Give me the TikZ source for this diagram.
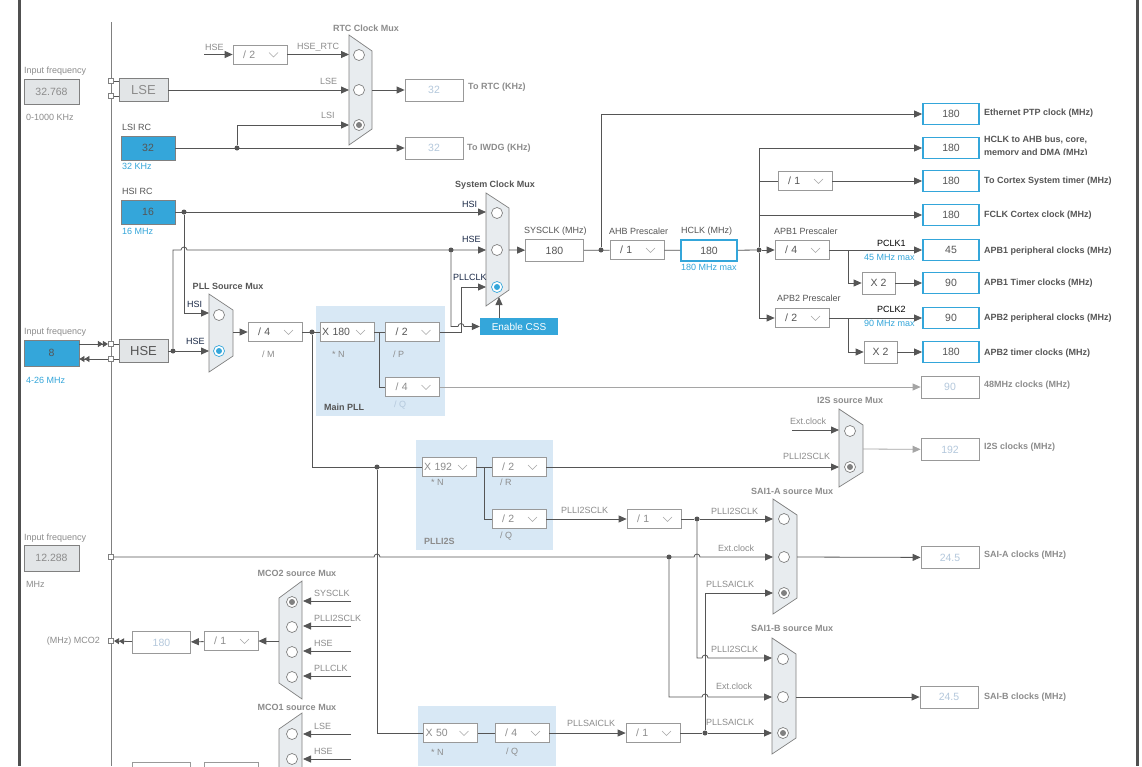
\documentclass[tikz,border=0pt]{standalone}
\usepackage{fontspec}
\setmainfont{Liberation Sans}
\usetikzlibrary{arrows.meta}

\definecolor{stblue}{RGB}{52,166,218}
\definecolor{wirec}{RGB}{85,85,85}
\definecolor{lightwire}{RGB}{165,165,165}
\definecolor{boxgray}{RGB}{226,229,231}
\definecolor{muxgray}{RGB}{232,236,239}
\definecolor{pllbg}{RGB}{216,232,245}
\definecolor{txtgray}{RGB}{140,140,140}
\definecolor{txtdark}{RGB}{85,85,85}
\definecolor{txtoff}{RGB}{180,200,220}
\definecolor{txtnavy}{RGB}{25,40,70}
\definecolor{framec}{RGB}{80,80,80}

\tikzstyle{wire} = [draw=wirec, line width=0.8pt]
\tikzstyle{arr} = [wire, -{Triangle[length=8pt,width=7pt]}]
\tikzstyle{dbl} = [wire, -{Triangle[length=5pt,width=6pt]Triangle[length=5pt,width=6pt]}]
\tikzstyle{dot} = [circle, fill=wirec, inner sep=0pt, minimum size=5pt]
\tikzstyle{port} = [draw=gray, fill=white, line width=0.6pt, inner sep=0pt, minimum size=5.5pt]
\tikzstyle{inbox} = [draw=gray, line width=0.8pt, fill=stblue, inner sep=0pt, minimum width=54pt, minimum height=24pt, font=\fontsize{10.5}{12}\selectfont, text=txtdark]
\tikzstyle{greybox} = [inbox, fill=boxgray, text=txtgray]
\tikzstyle{srcbox} = [greybox, minimum width=49pt, minimum height=23pt, font=\fontsize{13}{15}\selectfont]
\tikzstyle{dropx} = [draw=gray!80, line width=0.7pt, fill=white, inner xsep=2pt, inner ysep=0pt, text width=50pt, minimum height=19pt, align=left, font=\fontsize{10.5}{12}\selectfont, text=txtdark, path picture={\draw[gray!70, line width=0.6pt] ([xshift=-18pt,yshift=2pt]path picture bounding box.east) -- ++(4.5pt,-4.5pt) -- ++(4.5pt,4.5pt);}]
\tikzstyle{drop} = [dropx, execute at begin node={\hspace*{8pt}}]
\tikzstyle{dropoff} = [drop, text=txtgray]
\tikzstyle{dropoffx} = [dropx, text=txtgray]
\tikzstyle{mulbox} = [draw=gray!80, line width=0.7pt, fill=white, inner sep=0pt, minimum width=33pt, minimum height=22pt, font=\fontsize{10.5}{12}\selectfont, text=txtdark]
\tikzstyle{outon} = [draw=stblue, line width=1.8pt, fill=white, inner sep=0pt, minimum width=56pt, minimum height=21pt, font=\fontsize{10.5}{12}\selectfont, text=txtdark]
\tikzstyle{outoff} = [outon, draw=gray!80, line width=0.8pt, minimum width=58pt, minimum height=22pt, text=txtoff]
\tikzstyle{valbox} = [outoff, text=txtdark]
\tikzstyle{mux} = [draw=gray, fill=muxgray, line width=0.7pt]
\tikzstyle{sel} = [circle, draw=gray, fill=white, line width=0.7pt, inner sep=0pt, minimum size=11pt]
\tikzstyle{selon} = [sel, draw=stblue, path picture={\fill[stblue] (path picture bounding box.center) circle (3pt);}]
\tikzstyle{selgrey} = [sel, path picture={\fill[gray] (path picture bounding box.center) circle (3pt);}]
\tikzstyle{lbl} = [inner sep=0pt, anchor=west, font=\fontsize{9}{11}\selectfont, text=txtgray]
\tikzstyle{lbldark} = [lbl, text=txtdark]
\tikzstyle{lblnavy} = [lbl, text=txtnavy]
\tikzstyle{lblblue} = [lbl, text=stblue]
\tikzstyle{title} = [inner sep=0pt, font=\bfseries\fontsize{9}{11}\selectfont, text=txtgray]
\tikzstyle{outlbl} = [inner sep=0pt, anchor=west, font=\bfseries\fontsize{9}{11}\selectfont, text=txtdark]

\begin{document}
\begin{tikzpicture}[x=1pt,y=-1pt]
	\useasboundingbox (0,0) rectangle (1142,766);
	\clip (0,0) rectangle (1142,766);
	\fill[white] (0,0) rectangle (1142,766);
	\fill[framec] (18,0) rectangle (21,766);
	\fill[framec] (1136,0) rectangle (1139,766);
	\draw[gray, line width=0.8pt] (111,22) -- (111,766);
	\fill[pllbg] (316,306) rectangle (445,416);
	\fill[pllbg] (416,440) rectangle (553,550);
	\fill[pllbg] (418,706) rectangle (556,766);

	% inputs
	\node[lbl] at (24,71) {Input frequency};
	\node[greybox, minimum width=55pt, minimum height=25pt] (in32) at (51.5,91.5) {32.768};
	\node[lbl] at (26,117) {0-1000 KHz};
	\node[port] (plse1) at (111,81) {};
	\node[port] (plse2) at (111,96) {};
	\node[srcbox] (lse) at (143.5,90) {LSE};
	\node[lbldark] at (122,127) {LSI RC};
	\node[inbox] (lsirc) at (148,148) {32};
	\node[lblblue] at (122,166) {32 KHz};
	\node[lbldark] at (122,191) {HSI RC};
	\node[inbox] (hsirc) at (148,212) {16};
	\node[lblblue] at (122,231) {16 MHz};
	\node[lbl] at (24,332) {Input frequency};
	\node[inbox, minimum width=55pt, minimum height=26pt] (in8) at (51.5,353) {8};
	\node[lblblue] at (26,380) {4-26 MHz};
	\node[port] (phse1) at (111,344) {};
	\node[port] (phse2) at (111,359) {};
	\node[srcbox, text=txtdark] (hse) at (143.5,351) {HSE};
	\node[lbl] at (24,538) {Input frequency};
	\node[greybox, minimum width=55pt, minimum height=26pt] (in12) at (51.5,558) {12.288};
	\node[lbl] at (26,584) {MHz};
	\node[port] (pext) at (111,557) {};
	\node[lbl, anchor=east] at (100,641) {(MHz) MCO2};
	\node[port] (pmco2) at (111,641) {};

	% RTC clock mux
	\node[title] at (366,28) {RTC Clock Mux};
	\draw[mux] (349,35) -- (372,51) -- (372,129) -- (349,145) -- cycle;
	\node[sel] (rtc1) at (359,55) {};
	\node[sel] (rtc2) at (359,90) {};
	\node[selgrey] (rtc3) at (359,125) {};
	\coordinate (rtcA) at (349,54.5);
	\coordinate (rtcB) at (349,90);
	\coordinate (rtcC) at (349,125);
	\coordinate (rtcout) at (372,90);
	\coordinate (hsein) at (204,54.5);
	\node[lbl] at (205,47) {HSE};
	\node[dropoff] (rtcdiv) at (260,54.5) {/ 2};
	\node[lbl] at (297,47) {HSE\_RTC};
	\node[lbl] at (320,81) {LSE};
	\node[lbl] at (321,115) {LSI};
	\node[outoff] (torc) at (434,90) {32};
	\node[outlbl, text=txtgray] at (468,87) {To RTC (KHz)};
	\node[outoff] (toiwdg) at (434,148) {32};
	\node[outlbl, text=txtgray] at (467,148) {To IWDG (KHz)};
	\node[dot] (lsidot) at (237,148) {};

	% system clock mux
	\node[title, text=txtdark] at (495,185) {System Clock Mux};
	\draw[mux] (486,193) -- (509,208) -- (509,290) -- (486,306) -- cycle;
	\node[sel] (sys1) at (497,213) {};
	\node[sel] (sys2) at (497,250) {};
	\node[selon] (sys3) at (497,287) {};
	\coordinate (sysA) at (486,212);
	\coordinate (sysB) at (486,250);
	\coordinate (sysC) at (486,287);
	\coordinate (sysout) at (509,250);
	\coordinate (sysbot) at (499,297);
	\node[lblnavy] at (462,204) {HSI};
	\node[lblnavy] at (462,239) {HSE};
	\node[lblnavy] at (453,277) {PLLCLK};
	\node[dot] (hsidot) at (184,212) {};
	\node[dot] (hsedot) at (173,351) {};
	\node[dot] (sysdot) at (451,250) {};
	\node[fill=stblue, text=white, inner sep=0pt, minimum width=78pt, minimum height=17pt, font=\fontsize{10}{12}\selectfont] (css) at (519,326.5) {Enable CSS};
	\coordinate (csstop) at (499,318);

	% PLL source mux and main PLL
	\node[title, text=txtdark] at (228,286) {PLL Source Mux};
	\draw[mux] (209,294) -- (233,310) -- (233,356) -- (209,372) -- cycle;
	\node[sel] (pll1) at (219,315) {};
	\node[selon] (pll2) at (219,351) {};
	\coordinate (pllA) at (209,313);
	\coordinate (pllB) at (209,351);
	\coordinate (pllout) at (233,332);
	\node[lblnavy] at (187,304) {HSI};
	\node[lblnavy] at (186,341) {HSE};
	\node[drop] (divm) at (275,332) {/ 4};
	\node[lbl] at (262,354) {/ M};
	\node[dot] (mdot) at (312,332) {};
	\node[dropx] (muln) at (347,332) {X 180};
	\node[lbl] at (332,354) {* N};
	\node[drop] (divp) at (412.5,332) {/ 2};
	\node[lbl] at (393,354) {/ P};
	\coordinate (nbr) at (379,332);
	\node[dropoff] (divq) at (412.5,387) {/ 4};
	\node[lbl, text=txtoff] at (394,405) {/ Q};
	\node[title, anchor=west, text=txtdark] at (324,407) {Main PLL};

	% AHB and APB
	\node[valbox] (sysclk) at (554.5,250.5) {180};
	\node[lbldark] at (524,231) {SYSCLK (MHz)};
	\node[dot] (ahbdot) at (601,250) {};
	\node[drop] (ahb) at (637,250) {/ 1};
	\node[lbldark] at (609,231) {AHB Prescaler};
	\node[outon] (hclk) at (709,250.5) {180};
	\node[lbldark] at (681,231) {HCLK (MHz)};
	\node[lblblue] at (681,267) {180 MHz max};
	\node[dot] (hclkdot) at (759,250) {};
	\node[drop] (systdiv) at (805,181) {/ 1};
	\node[drop] (apb1) at (802,250) {/ 4};
	\node[lbldark] at (774,231) {APB1 Prescaler};
	\node[drop] (apb2) at (802,318) {/ 2};
	\node[lbldark] at (777,298) {APB2 Prescaler};
	\coordinate (apb1br) at (848,250);
	\coordinate (apb2br) at (848,318);
	\node[mulbox] (x2a) at (878.5,283) {X 2};
	\node[mulbox] (x2b) at (880.5,352) {X 2};
	\node[lbl, text=black] at (877,243) {PCLK1};
	\node[lblblue] at (864,257) {45 MHz max};
	\node[lbl, text=black] at (877,309) {PCLK2};
	\node[lblblue] at (864,323) {90 MHz max};

	% outputs
	\node[outon] (eth) at (951,114) {180};
	\node[outon] (ahbo) at (951,148) {180};
	\node[outon] (cort) at (951,181) {180};
	\node[outon] (fclk) at (951,215) {180};
	\node[outon] (apb1p) at (951,250) {45};
	\node[outon] (apb1t) at (951,283) {90};
	\node[outon] (apb2p) at (951,318) {90};
	\node[outon] (apb2t) at (951,352) {180};
	\node[outoff] (usb) at (950,387) {90};
	\node[outlbl] at (984,113) {Ethernet PTP clock (MHz)};
	\node[outlbl] at (984,140) {HCLK to AHB bus, core,};
	\begin{scope}
		\clip (980,147) rectangle (1135,154.5);
		\node[outlbl] at (984,153.5) {memory and DMA (MHz)};
	\end{scope}
	\node[outlbl] at (984,181) {To Cortex System timer (MHz)};
	\node[outlbl] at (984,215) {FCLK Cortex clock (MHz)};
	\node[outlbl] at (984,251) {APB1 peripheral clocks (MHz)};
	\node[outlbl] at (984,283) {APB1 Timer clocks (MHz)};
	\node[outlbl] at (984,318) {APB2 peripheral clocks (MHz)};
	\node[outlbl] at (984,353) {APB2 timer clocks (MHz)};
	\node[outlbl, text=txtgray] at (984,385) {48MHz clocks (MHz)};

	% I2S source mux and PLLI2S
	\node[title] at (850,400) {I2S source Mux};
	\draw[mux] (839,409) -- (863,425) -- (863,472) -- (839,487) -- cycle;
	\node[sel] (i2s1) at (850,431) {};
	\node[selgrey] (i2s2) at (850,467) {};
	\coordinate (i2sext) at (792,430);
	\coordinate (i2smA) at (839,430);
	\coordinate (i2smB) at (839,467);
	\coordinate (i2smout) at (863,449);
	\node[lbl] at (790,421) {Ext.clock};
	\node[lbl] at (783,456) {PLLI2SCLK};
	\node[outoff] (i2sout) at (950,449.5) {192};
	\node[outlbl, text=txtgray] at (984,447) {I2S clocks (MHz)};
	\node[dot] (i2sdot) at (377,467) {};
	\node[dropoffx] (i2sn) at (449,467) {X 192};
	\node[lbl] at (431,482) {* N};
	\coordinate (i2sbr) at (484,467);
	\node[dropoff] (i2sr) at (519,467) {/ 2};
	\node[lbl] at (500,482) {/ R};
	\node[dropoff] (i2sq) at (519,519) {/ 2};
	\node[lbl] at (500,536) {/ Q};
	\node[title, anchor=west] at (424,541) {PLLI2S};
	\node[lbl] at (561,510) {PLLI2SCLK};
	\node[dropoff] (i2sdiv) at (654,519) {/ 1};
	\node[dot] (q2dot) at (697,519) {};

	% SAI1-A and SAI1-B source mux
	\node[title] at (792,491) {SAI1-A source Mux};
	\draw[mux] (773,499) -- (797,515) -- (797,598) -- (773,614) -- cycle;
	\node[sel] (saia1) at (784,519) {};
	\node[sel] (saia2) at (784,557) {};
	\node[selgrey] (saia3) at (784,593) {};
	\coordinate (saiaA) at (773,519);
	\coordinate (saiaB) at (773,557);
	\coordinate (saiaC) at (773,593);
	\coordinate (saiaout) at (797,557);
	\node[lbl] at (711,511) {PLLI2SCLK};
	\node[lbl] at (718,548) {Ext.clock};
	\node[lbl] at (706,584) {PLLSAICLK};
	\node[outoff] (saiabox) at (950,557.5) {24.5};
	\node[outlbl, text=txtgray] at (984,555) {SAI-A clocks (MHz)};
	\node[dot] (extdot) at (669,557) {};
	\node[title] at (792,628) {SAI1-B source Mux};
	\draw[mux] (772,638) -- (796,654) -- (796,738) -- (772,754) -- cycle;
	\node[sel] (saib1) at (783,659) {};
	\node[sel] (saib2) at (783,697) {};
	\node[selgrey] (saib3) at (783,733) {};
	\coordinate (saibA) at (772,658);
	\coordinate (saibB) at (772,697);
	\coordinate (saibC) at (772,733);
	\coordinate (saibout) at (796,697);
	\node[lbl] at (711,649) {PLLI2SCLK};
	\node[lbl] at (716,686) {Ext.clock};
	\node[lbl] at (706,722) {PLLSAICLK};
	\node[outoff] (saibbox) at (949,697) {24.5};
	\node[outlbl, text=txtgray] at (984,697) {SAI-B clocks (MHz)};

	% PLLSAI
	\node[dropoffx] (sain) at (450.5,733) {X 50};
	\node[lbl] at (431,752) {* N};
	\node[dropoff] (saiq) at (522,733) {/ 4};
	\node[lbl] at (506,752) {/ Q};
	\node[lbl] at (567,723) {PLLSAICLK};
	\node[dropoff] (saidiv) at (653,733) {/ 1};
	\node[dot] (saidot) at (705,733) {};

	% MCO2 and MCO1
	\node[title] at (297,573) {MCO2 source Mux};
	\draw[mux] (302,581) -- (279,598) -- (279,683) -- (302,699) -- cycle;
	\node[selgrey] (mco2s1) at (292,602) {};
	\foreach \i/\y in {2/627,3/652,4/677}
		\node[sel] (mco2s\i) at (292,\y) {};
	\foreach \i/\y/\t in {1/601/SYSCLK,2/626/PLLI2SCLK,3/651/HSE,4/676/PLLCLK}{
		\coordinate (m2in\i) at (351,\y);
		\coordinate (m2pt\i) at (303,\y);
		\draw[arr] (m2in\i) -- (m2pt\i);
		\node[lbl] at (314,\y-8) {\t};
	}
	\coordinate (m2out) at (279,641);
	\node[dropoff] (mco2div) at (231,641) {/ 1};
	\node[outoff] (mco2out) at (161.5,642.5) {180};
	\node[title] at (297,707) {MCO1 source Mux};
	\draw[mux] (302,713) -- (279,729) -- (279,800) -- (302,800) -- cycle;
	\node[sel] (mco1s1) at (292,734) {};
	\node[sel] (mco1s2) at (292,759) {};
	\foreach \i/\y/\t in {1/734/LSE,2/759/HSE}{
		\coordinate (m1in\i) at (351,\y);
		\coordinate (m1pt\i) at (303,\y);
		\draw[arr] (m1in\i) -- (m1pt\i);
		\node[lbl] at (314,\y-8) {\t};
	}
	\node[outoff] (mco1out) at (161.5,773) {};
	\node[dropoff] (mco1div) at (231,771.5) {};

	% connections
	\draw[wire] (plse1.east) -- (plse1 -| lse.west);
	\draw[wire] (plse2.east) -- (plse2 -| lse.west);
	\draw[dbl] (in8.east |- phse1) -- (phse1.west);
	\draw[dbl] (phse2.west) -- (in8.east |- phse2);
	\draw[wire] (phse1.east) -- (phse1 -| hse.west);
	\draw[wire] (phse2.east) -- (phse2 -| hse.west);
	\draw[arr] (hsein) -- (rtcdiv);
	\draw[arr] (rtcdiv) -- (rtcA);
	\draw[arr] (lse) -- (rtcB);
	\draw[arr] (lsidot) |- (rtcC);
	\draw[arr] (lsirc) -- (toiwdg);
	\draw[arr] (rtcout) -- (torc);
	\draw[arr] (hsirc) -- (sysA);
	\draw[arr] (hsidot) |- (pllA);
	\draw[arr] (hse) -- (pllB);
	\draw[arr] (hsedot) -- (173,250) -- (181,250) arc[start angle=180,end angle=0,radius=3pt] -- (sysB);
	\draw[arr] (sysdot) -- (451,326.5) -- (458,326.5) arc[start angle=180,end angle=0,radius=3pt] -- (css);
	\draw[arr] (divp) -- (461,332) -- (461,287) -- (sysC);
	\draw[arr] (csstop) -- (sysbot);
	\draw[arr] (sysout) -- (sysclk);
	\draw[wire] (sysclk) -- (ahb);
	\draw[arr] (ahbdot) |- (eth);
	\draw[wire] (ahb) -- (hclk);
	\draw[wire] (hclk) -- (hclkdot);
	\draw[arr] (hclkdot) |- (ahbo);
	\draw[wire] (hclkdot) |- (systdiv);
	\draw[arr] (systdiv) -- (cort);
	\draw[arr] (hclkdot) |- (fclk);
	\draw[arr] (hclkdot) -- (apb1);
	\draw[arr] (hclkdot) |- (apb2);
	\draw[arr] (apb1) -- (apb1p);
	\draw[arr] (apb1br) |- (x2a);
	\draw[arr] (x2a) -- (apb1t);
	\draw[arr] (apb2) -- (apb2p);
	\draw[arr] (apb2br) |- (x2b);
	\draw[arr] (x2b) -- (apb2t);
	\draw[arr] (pllout) -- (divm);
	\draw[wire] (divm) -- (muln);
	\draw[wire] (mdot) -- (312,467) -- (i2sn);
	\draw[wire] (muln) -- (divp);
	\draw[wire] (nbr) |- (divq);
	\draw[arr, draw=lightwire] (divq) -- (usb);
	\draw[wire] (i2sn) -- (i2sr);
	\draw[wire] (i2sbr) |- (i2sq);
	\draw[arr] (i2sr) -- (i2smB);
	\draw[arr] (i2sq) -- (i2sdiv);
	\draw[wire] (i2sdiv) -- (q2dot);
	\draw[arr] (q2dot) -- (saiaA);
	\draw[arr] (i2sext) -- (i2smA);
	\draw[arr, draw=lightwire] (i2smout) -- (i2sout);
	\draw[arr] (pext.east) -- (374,557) arc[start angle=180,end angle=0,radius=3pt] -- (694,557) arc[start angle=180,end angle=0,radius=3pt] -- (saiaB);
	\draw[arr] (extdot) -- (669,697) -- (702,697) arc[start angle=180,end angle=0,radius=3pt] -- (saibB);
	\draw[arr] (q2dot) -- (697,658) -- (702,658) arc[start angle=180,end angle=0,radius=3pt] -- (saibA);
	\draw[arr] (saiaout) -- (saiabox);
	\draw[arr] (saibout) -- (saibbox);
	\draw[wire] (i2sdot) -- (377,733) -- (sain);
	\draw[wire] (sain) -- (saiq);
	\draw[arr] (saiq) -- (saidiv);
	\draw[wire] (saidiv) -- (saidot);
	\draw[arr] (saidot) -- (saibC);
	\draw[arr] (saidot) |- (saiaC);
	\draw[arr] (m2out) -- (mco2div);
	\draw[arr] (mco2div) -- (mco2out);
	\draw[dbl] (mco2out) -- (pmco2.east);
\end{tikzpicture}
\end{document}
